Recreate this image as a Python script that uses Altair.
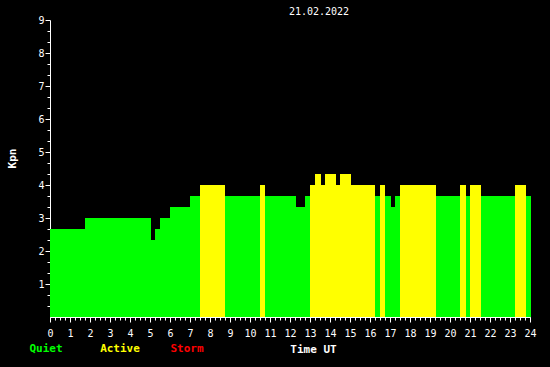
import altair as alt
import pandas as pd

# Kp segments (hours UT)
starts = [0, 1.75, 5.05, 5.25, 5.5, 6.0, 7.0, 7.5, 8.75, 10.5, 10.75, 12.3, 12.75,
          13.0, 13.25, 13.55, 13.75, 14.3, 14.5, 15.05, 16.25, 16.5, 16.75, 17.05,
          17.25, 17.5, 19.3, 20.5, 20.8, 21.0, 21.55, 23.25, 23.8]
ends = starts[1:] + [24.05]
kp = [2.667, 3.0, 2.333, 2.667, 3.0, 3.333, 3.667, 4.0, 3.667, 4.0, 3.667, 3.333,
      3.667, 4.0, 4.333, 4.0, 4.333, 4.0, 4.333, 4.0, 3.667, 4.0, 3.667, 3.333,
      3.667, 4.0, 3.667, 4.0, 3.667, 4.0, 3.667, 4.0, 3.667]

levels = ["Quiet", "Active", "Storm"]
level_colors = ["#00ff00", "#ffff00", "#ff0000"]
date_label = "21.02.2022"

x_labels = list(range(0, 25))
x_minor = [i / 4 for i in range(0, 97)]
y_labels = list(range(1, 10))
y_minor = [i / 3 for i in range(1, 27)]

def level(v):
    if v >= 5:
        return "Storm"
    if v >= 4:
        return "Active"
    return "Quiet"

df = pd.DataFrame({"start": starts, "end": ends, "kp": kp})
df["level"] = [level(v) for v in kp]

FONT = "DejaVu Sans Mono"
W = "#ffffff"

xs = alt.Scale(domain=[0, 24], nice=False, zero=False)
ys = alt.Scale(domain=[0, 9], nice=False, zero=True)

color = alt.Color("level:N", scale=alt.Scale(domain=levels, range=level_colors), legend=None)

bars = alt.Chart(df).mark_rect(strokeWidth=0).encode(
    x=alt.X("start:Q", scale=xs, axis=alt.Axis(
        values=x_labels, tickSize=5, labelPadding=6, labelFontSize=10, labelFlush=False,
        title="Time UT", titleFont=FONT, titleFontSize=11, titleFontWeight="bold",
        titleColor=W, titleX=263, titleY=32, titleAlign="center", titleBaseline="middle",
        orient="bottom")),
    x2="end:Q",
    y=alt.Y("kp:Q", scale=ys, axis=alt.Axis(
        values=y_labels, tickSize=5, labelPadding=1, labelFontSize=10, labelFlush=False,
        title="Kpn", titleFont=FONT, titleFontSize=11, titleFontWeight="bold",
        titleColor=W, titleX=-38, titleY=138, titleAlign="center", titleBaseline="middle",
        titleAngle=270, orient="left")),
    y2=alt.datum(0),
    color=color,
)

minor = alt.Chart(df).mark_rect(opacity=0).encode(
    x=alt.X("start:Q", scale=xs, axis=alt.Axis(
        values=x_minor, tickSize=3, labels=False, domain=False, title=None, orient="bottom")),
    x2="end:Q",
    y=alt.Y("kp:Q", scale=ys, axis=alt.Axis(
        values=y_minor, tickSize=3, labels=False, domain=False, title=None, orient="left")),
    y2=alt.datum(0),
)

legend_x = [46, 120, 187]
text_layers = []
for name, col, px in zip(levels, level_colors, legend_x):
    text_layers.append(
        alt.Chart(pd.DataFrame({"t": [name]})).mark_text(
            font=FONT, fontSize=11, fontWeight="bold", color=col,
            align="center", baseline="middle"
        ).encode(text="t:N", x=alt.value(px - 50), y=alt.value(349 - 20))
    )

title = alt.Chart(pd.DataFrame({"t": [date_label]})).mark_text(
    font=FONT, fontSize=10, color=W, align="center", baseline="middle"
).encode(text="t:N", x=alt.value(319 - 50), y=alt.value(12 - 20))

chart = alt.layer(bars, minor, title, *text_layers).resolve_axis(
    x="independent", y="independent"
).properties(
    width=480, height=297,
    background="#000000",
    padding={"left": 50, "top": 20, "right": 20, "bottom": 50},
    autosize=alt.AutoSizeParams(type="none"),
).configure_view(stroke=None).configure_axis(
    grid=False, labelFont=FONT, labelColor=W, tickColor=W, domainColor=W,
    tickWidth=1, domainWidth=1, labelFontWeight="normal",
)

chart.save("out.html", embed_options={"renderer": "svg", "actions": False})
